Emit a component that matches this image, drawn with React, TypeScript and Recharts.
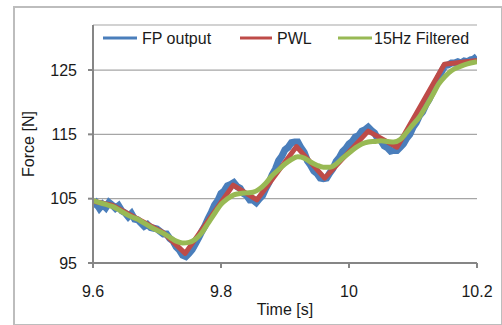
import React from 'react';
import {
  LineChart,
  Line,
  XAxis,
  YAxis,
  CartesianGrid,
} from 'recharts';

// FP output, sampled every 5 ms from 9.6 s
const fpStart = 9.6;
const fpStep = 0.005;
const fpOutput = [
  103.8, 104.3, 103.5, 104.1, 103.6, 104.4, 104.0, 103.5, 103.9, 103.1,
  102.8, 102.2, 102.7, 101.8, 101.7, 101.2, 100.7, 101.0, 100.5, 100.4,
  100.3, 99.9, 99.5, 99.5, 98.8, 98.4, 97.5, 97.0, 96.2, 96.0,
  96.5, 97.1, 98.0, 98.9, 99.9, 100.8, 101.9, 102.9, 104.0, 104.7,
  105.8, 106.2, 107.0, 107.2, 107.5, 106.9, 106.6, 105.8, 105.5, 104.8,
  104.8, 104.4, 105.0, 105.5, 106.6, 107.5, 108.7, 109.6, 110.9, 111.6,
  112.6, 113.0, 113.7, 113.8, 113.8, 112.9, 112.2, 110.9, 110.2, 109.3,
  108.9, 108.2, 108.1, 108.2, 109.0, 109.7, 110.8, 111.4, 112.3, 112.8,
  113.5, 113.9, 114.6, 114.8, 115.5, 115.7, 116.1, 115.6, 115.2, 114.3,
  114.0, 113.2, 112.9, 112.4, 112.5, 112.5, 113.0, 113.5, 114.4, 115.0,
  116.1, 116.8, 117.9, 118.5, 119.6, 120.4, 121.5, 122.5, 123.9, 124.8,
  125.7, 125.8, 126.1, 126.1, 126.3, 126.1, 126.4, 126.3, 126.6, 126.7,
  127.1,
];

// PWL breakpoints
const pwlTime = [9.6, 9.63, 9.71, 9.744, 9.819, 9.856, 9.918, 9.962, 10.03, 10.075, 10.149, 10.2];
const pwlForce = [104.6, 104.0, 99.7, 96.5, 107.1, 104.8, 113.1, 108.2, 115.5, 113.0, 125.9, 126.5];

// 15Hz filtered, every 10 ms from 9.6 s
const filtStart = 9.6;
const filtStep = 0.01;
const filtered = [
  104.7, 104.4, 104.1, 103.8, 103.3, 102.7, 102.2, 101.8, 101.2, 100.6,
  100.1, 99.6, 99.0, 98.4, 98.1, 98.2, 98.7, 99.7, 101.2, 102.7,
  104.1, 105.0, 105.6, 105.8, 105.9, 106.0, 106.5, 107.4, 108.6, 109.5,
  110.4, 111.1, 111.5, 111.3, 110.7, 110.2, 109.9, 109.9, 110.4, 111.3,
  112.1, 112.9, 113.5, 113.8, 113.9, 114.0, 113.9, 113.8, 114.2, 115.3,
  116.5, 117.7, 119.3, 121.0, 122.8, 124.0, 124.9, 125.4, 125.8, 126.1,
  126.3,
];

const xTicks = [9.6, 9.8, 10, 10.2];
const yTicks = [95, 105, 115, 125];

const BLUE = '#4a7ebb';
const RED = '#be4b48';
const GREEN = '#98b954';

const round = (v: number) => Math.round(v * 1000) / 1000;

const fpData = fpOutput.map((f, i) => ({ t: round(fpStart + i * fpStep), f }));
const pwlData = pwlTime.map((t, i) => ({ t, f: pwlForce[i] }));
const filtData = filtered.map((f, i) => ({ t: round(filtStart + i * filtStep), f }));

const font = '"Liberation Sans", Arial, sans-serif';

const LegendBox = () => (
  <svg width={390} height={22} style={{ display: 'block' }}>
    <line x1={3} x2={37} y1={10} y2={10} stroke={BLUE} strokeWidth={3} />
    <text x={42} y={16} fontSize={16} fontFamily={font} fill="#1a1a1a">FP output</text>
    <line x1={140} x2={172} y1={10} y2={10} stroke={RED} strokeWidth={3} />
    <text x={177} y={16} fontSize={16} fontFamily={font} fill="#1a1a1a">PWL</text>
    <line x1={238} x2={272} y1={10} y2={10} stroke={GREEN} strokeWidth={3} />
    <text x={274} y={16} fontSize={16} fontFamily={font} fill="#1a1a1a">15Hz Filtered</text>
  </svg>
);

export default function App() {
  return (
    <div style={{ position: 'absolute', left: 0, top: 0, width: 502, height: 325, background: '#fff' }}>
      <div
        style={{
          position: 'absolute',
          left: 13,
          top: 6,
          width: 486,
          height: 316,
          border: '2px solid #bdbdbd',
        }}
      />
      <LineChart
        width={502}
        height={325}
        margin={{ top: 25, right: 25, bottom: 32, left: 33 }}
        style={{ position: 'absolute', left: 0, top: 0, fontFamily: font }}
      >
        <CartesianGrid vertical={false} stroke="#a6a6a6" strokeWidth={1.2} />
        <XAxis
          dataKey="t"
          type="number"
          domain={[9.6, 10.2]}
          ticks={xTicks}
          allowDataOverflow
          height={30}
          stroke="#868686"
          strokeWidth={2}
          tickSize={5}
          tickMargin={18}
          tick={{ fill: '#1a1a1a', fontSize: 16, fontFamily: font }}
          label={{
            content: () => (
              <text x={285} y={315} textAnchor="middle" fontSize={16} fontFamily={font} fill="#1a1a1a">
                Time [s]
              </text>
            ),
          }}
        />
        <YAxis
          type="number"
          domain={[95, 132]}
          ticks={yTicks}
          allowDataOverflow
          width={60}
          stroke="#868686"
          strokeWidth={2}
          tickSize={5}
          tickMargin={11}
          tick={{ fill: '#1a1a1a', fontSize: 16, fontFamily: font }}
          label={{
            content: () => (
              <text
                x={34}
                y={144}
                textAnchor="middle"
                transform="rotate(-90 34 144)"
                fontSize={16}
                fontFamily={font}
                fill="#1a1a1a"
              >
                Force [N]
              </text>
            ),
          }}
        />
        <Line
          data={fpData}
          dataKey="f"
          name="FP output"
          type="linear"
          stroke={BLUE}
          strokeWidth={7}
          dot={false}
          isAnimationActive={false}
        />
        <Line
          data={pwlData}
          dataKey="f"
          name="PWL"
          type="linear"
          stroke={RED}
          strokeWidth={5}
          strokeLinejoin="round"
          dot={false}
          isAnimationActive={false}
        />
        <Line
          data={filtData}
          dataKey="f"
          name="15Hz Filtered"
          type="monotone"
          stroke={GREEN}
          strokeWidth={5}
          dot={false}
          isAnimationActive={false}
        />
      </LineChart>
      <div style={{ position: 'absolute', left: 100, top: 28 }}>
        <LegendBox />
      </div>
    </div>
  );
}
